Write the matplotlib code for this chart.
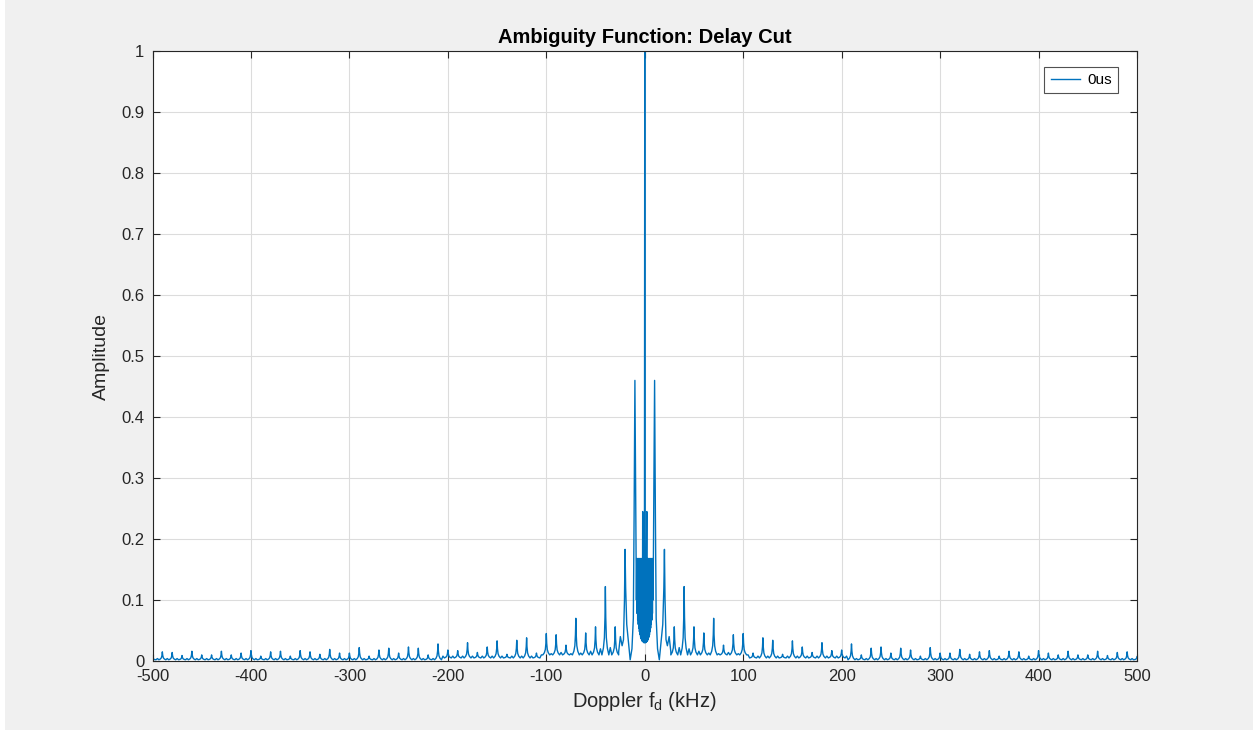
import numpy as np
import matplotlib
matplotlib.use("Agg")
import matplotlib.pyplot as plt
from matplotlib.patches import Rectangle

plt.rcParams['font.family'] = ['Liberation Sans', 'DejaVu Sans']
plt.rcParams['axes.unicode_minus'] = False

# centre of the cut (positive side, mirrored below), kHz / amplitude
main_lobe = 1.0
block_x = [0.35, 0.6, 0.9, 1.2, 1.5, 1.8, 2.1, 2.4, 2.7, 3.0, 3.3, 3.6, 3.9, 4.2,
           4.5, 4.8, 5.1, 5.4, 5.7, 6.0, 6.3, 6.6, 6.9, 7.2, 7.5, 7.8, 8.1]
block_y = [0.030, 0.168, 0.030, 0.168, 0.031, 0.168, 0.245, 0.032, 0.168, 0.034,
           0.168, 0.036, 0.168, 0.039, 0.168, 0.043, 0.168, 0.048, 0.168, 0.054,
           0.168, 0.060, 0.168, 0.067, 0.168, 0.078, 0.168]
near_x = [8.5, 9.2, 10.0, 10.8, 11.6, 13.0, 14.8, 16.5, 18.3, 19.4, 20.0, 20.6,
          21.6, 23.0, 24.8, 26.5]
near_y = [0.100, 0.260, 0.460, 0.240, 0.070, 0.020, 0.002, 0.030, 0.060, 0.120,
          0.183, 0.100, 0.035, 0.025, 0.040, 0.015]

# sidelobe peaks every 10 kHz from 30 to 500 kHz
peak_f = list(range(30, 501, 10))
peak_h = [0.056, 0.122, 0.056, 0.046, 0.070, 0.026, 0.043, 0.045, 0.013, 0.038,
          0.034, 0.011, 0.033, 0.023, 0.014, 0.030, 0.017, 0.018, 0.028, 0.010,
          0.021, 0.023, 0.013, 0.021, 0.018, 0.008, 0.022, 0.013, 0.013, 0.019,
          0.011, 0.015, 0.017, 0.008, 0.016, 0.015, 0.008, 0.017, 0.013, 0.010,
          0.016, 0.010, 0.010, 0.016, 0.009, 0.014, 0.015, 0.007]
peak_floor = [0.010] * 8 + [0.005] * 10 + [0.002] * 30
# small bump halfway between neighbouring peaks
mid_h = [0.022, 0.020, 0.016, 0.013, 0.012, 0.014, 0.012, 0.010] + [0.008] * 10 + [0.004] * 30

# lobe outline around each sidelobe peak
lobe_dx = [-3.5, -2.0, -1.0, -0.4, 0.0, 0.4, 1.0, 2.0, 3.5]
lobe_frac = [0.0, 0.1, 0.25, 0.55, 1.0, 0.55, 0.25, 0.1, 0.0]

rx = list(block_x) + list(near_x)
ry = list(block_y) + list(near_y)
for f, h, fl, mh in zip(peak_f, peak_h, peak_floor, mid_h):
    for dx, fr in zip(lobe_dx, lobe_frac):
        x = f + dx
        if x > 500:
            continue
        rx.append(x)
        ry.append(fl + fr * (h - fl))
    if f + 5 < 500:
        rx.append(f + 5.0)
        ry.append(mh)

rx = np.array(rx)
ry = np.array(ry)
fd = np.concatenate([-rx[::-1], [0.0], rx])
amp = np.concatenate([ry[::-1], [main_lobe], ry])

W, H = 1253, 736
fig = plt.figure(figsize=(W / 100, H / 100), dpi=100, facecolor='#f0f0f0')
fig.add_artist(Rectangle((0, 0), 5 / W, 1, transform=fig.transFigure,
                         facecolor='white', edgecolor='none', zorder=-1))
fig.add_artist(Rectangle((0, 0), 1, 6 / H, transform=fig.transFigure,
                         facecolor='white', edgecolor='none', zorder=-1))

ax = fig.add_axes([152.5 / W, 75 / H, 984.5 / W, 610 / H])
ax.set_facecolor('white')
ax.plot(fd, amp, color='#0072BD', lw=1.0, label='0us')

ax.set_xlim(-500, 500)
ax.set_ylim(0, 1)
ax.set_xticks(np.arange(-500, 501, 100))
ax.set_yticks(np.arange(0, 1.01, 0.1))
ax.set_yticklabels(['0', '0.1', '0.2', '0.3', '0.4', '0.5', '0.6', '0.7', '0.8', '0.9', '1'])
ax.tick_params(direction='in', length=5, width=0.8, top=True, right=True,
               labelsize=12, colors='#262626', pad=6)
ax.grid(True, color='#dcdcdc', lw=0.8)
ax.set_axisbelow(True)
for s in ax.spines.values():
    s.set_color('#262626')
    s.set_linewidth(0.8)

ax.set_xlabel('Doppler f$_\\mathregular{d}$ (kHz)', fontsize=14.5, color='#262626', labelpad=4)
ax.set_ylabel('Amplitude', fontsize=14, color='#262626', labelpad=8)
ax.set_title('Ambiguity Function: Delay Cut', fontsize=14.5, fontweight='bold',
             color='black', pad=6)

leg = ax.legend(loc='upper right', bbox_to_anchor=(0.9807, 0.974), borderaxespad=0,
                fontsize=11, frameon=True, fancybox=False, edgecolor='#262626',
                handlelength=1.9, borderpad=0.4, handletextpad=0.5)
leg.get_frame().set_linewidth(0.8)

fig.savefig('out.png', dpi=100, facecolor=fig.get_facecolor())
